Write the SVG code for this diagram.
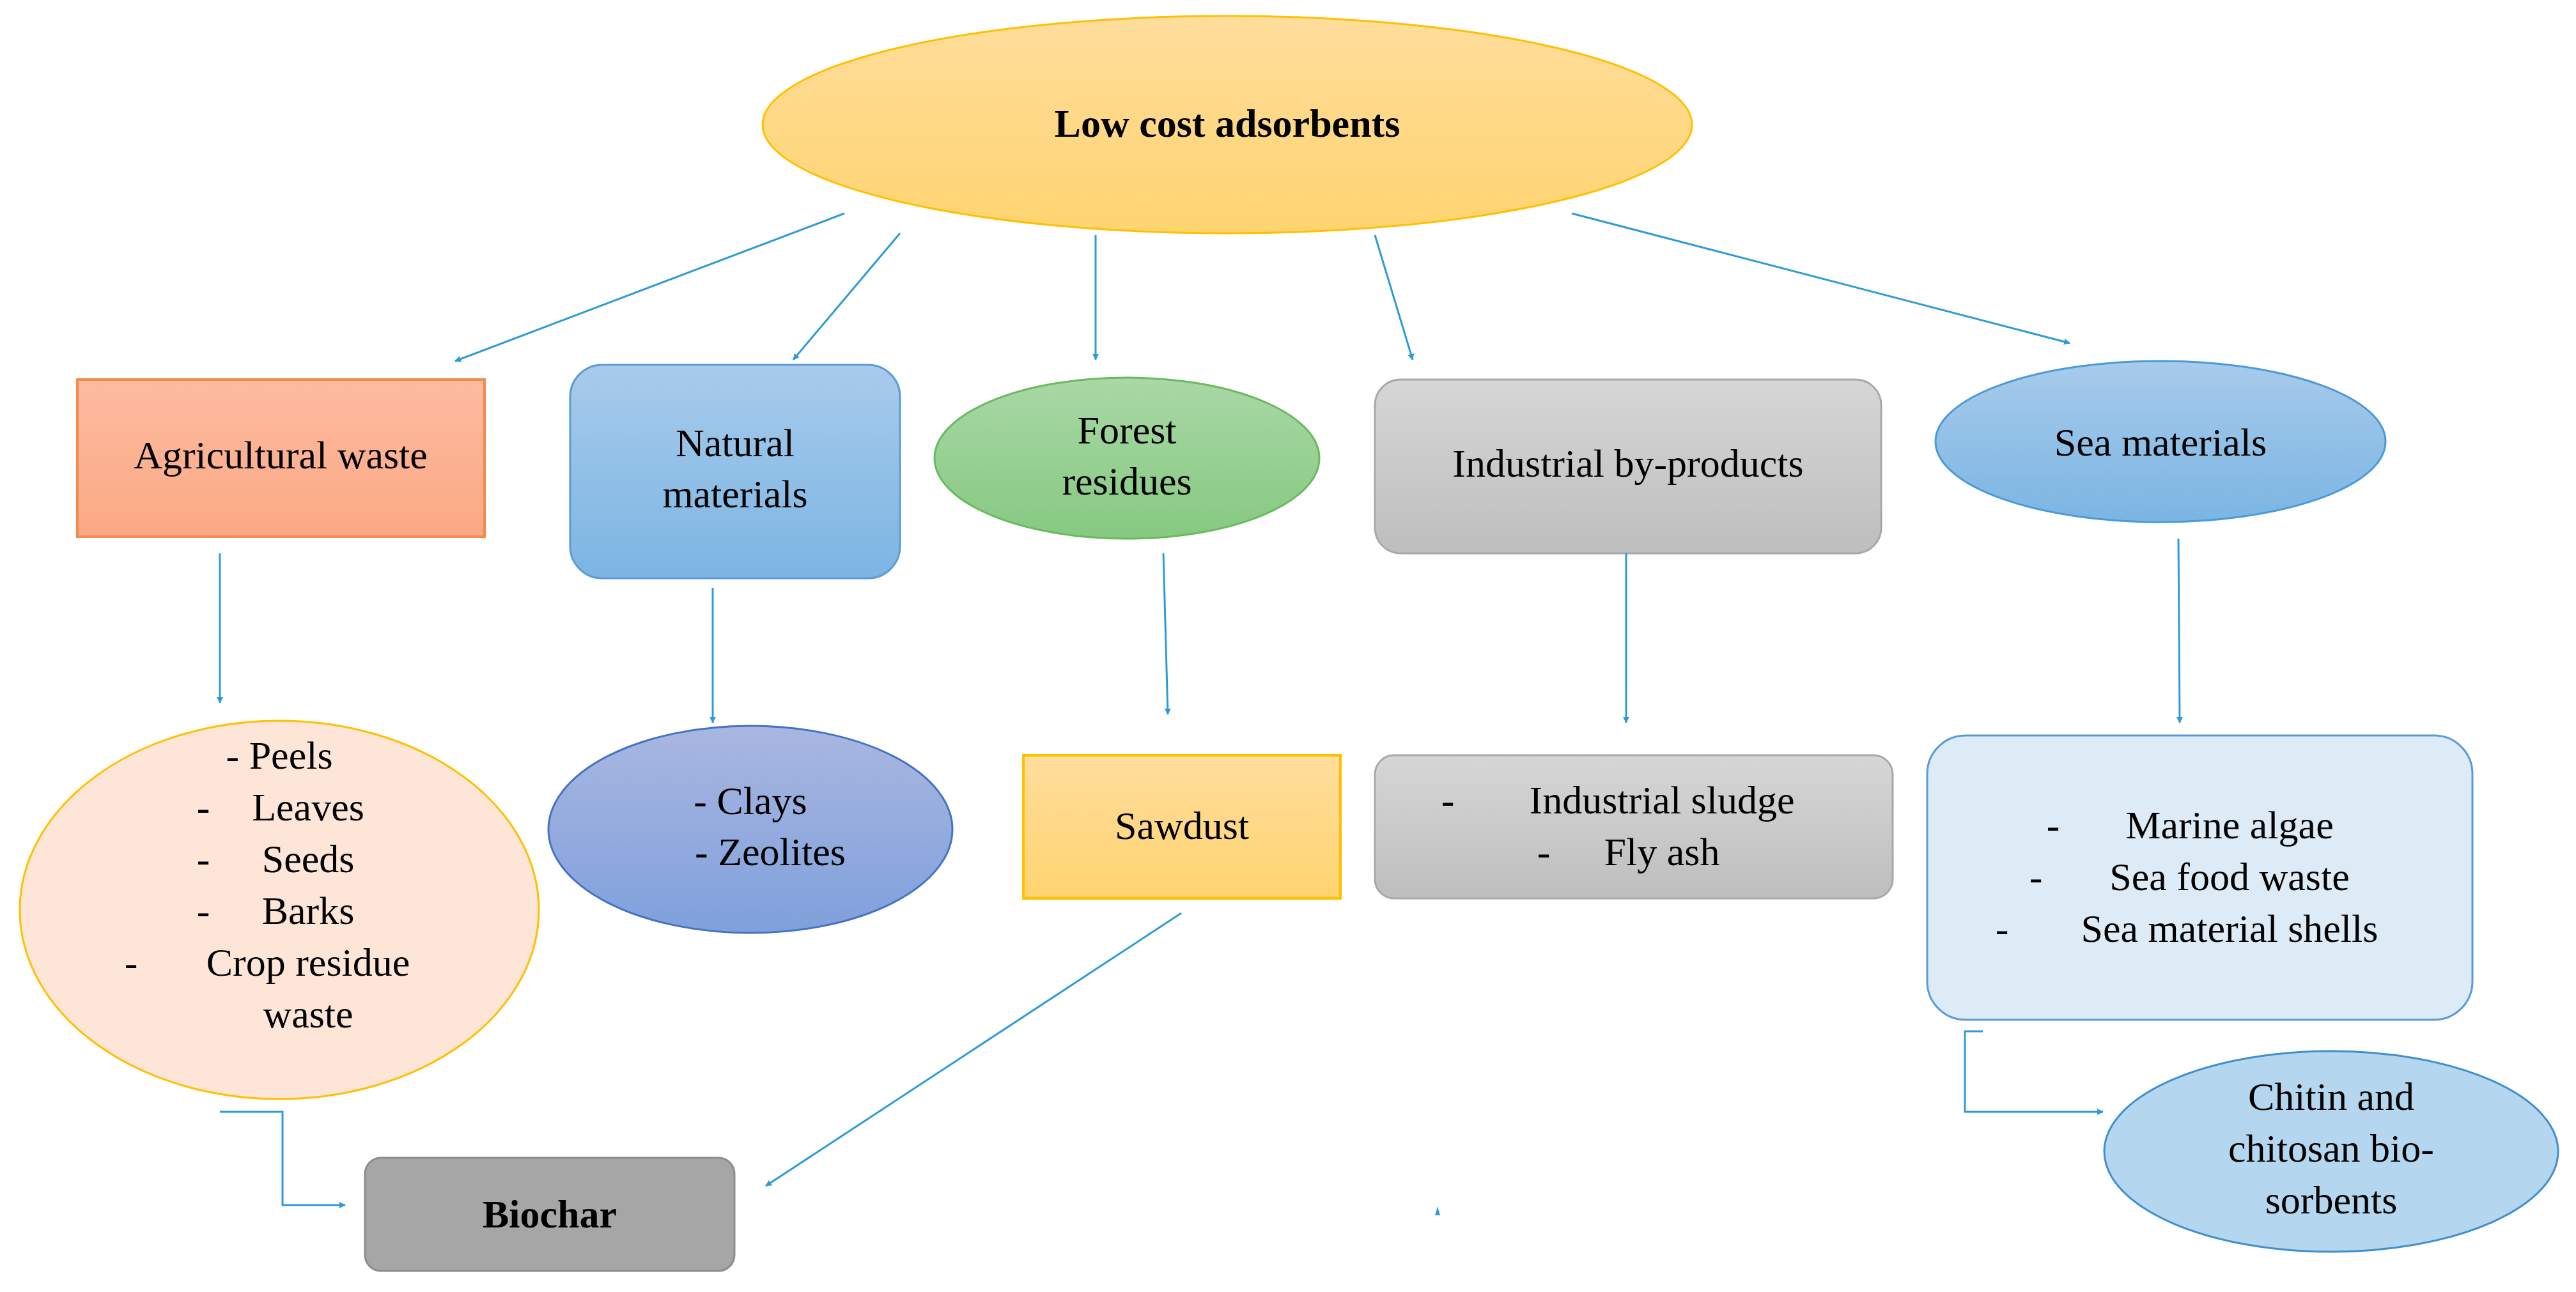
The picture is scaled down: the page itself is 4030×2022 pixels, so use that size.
<svg xmlns="http://www.w3.org/2000/svg" width="4030" height="2022" viewBox="0 0 4030 2022">
<style>
text{font-family:"Liberation Serif","DejaVu Serif",serif;font-size:62px;fill:#000;text-anchor:middle}
.c{fill:none;stroke:#2E9BD6;stroke-width:3}
</style>
<defs>
<marker id="a" markerWidth="10" markerHeight="10" refX="9" refY="5" orient="auto" markerUnits="userSpaceOnUse" viewBox="0 0 10 10"><path d="M0,0 L10,5 L0,10 z" fill="#2E9BD6"/></marker>
<linearGradient id="gy" x1="0" y1="0" x2="0" y2="1"><stop offset="0" stop-color="#FFDD9C"/><stop offset="1" stop-color="#FFD470"/></linearGradient>
<linearGradient id="go" x1="0" y1="0" x2="0" y2="1"><stop offset="0" stop-color="#FDBBA0"/><stop offset="1" stop-color="#FBA984"/></linearGradient>
<linearGradient id="gb" x1="0" y1="0" x2="0" y2="1"><stop offset="0" stop-color="#A8CBEB"/><stop offset="1" stop-color="#7BB5E3"/></linearGradient>
<linearGradient id="gg" x1="0" y1="0" x2="0" y2="1"><stop offset="0" stop-color="#A9D8A6"/><stop offset="1" stop-color="#86C981"/></linearGradient>
<linearGradient id="gs" x1="0" y1="0" x2="0" y2="1"><stop offset="0" stop-color="#D6D6D6"/><stop offset="1" stop-color="#BEBEBE"/></linearGradient>
<linearGradient id="gd" x1="0" y1="0" x2="0" y2="1"><stop offset="0" stop-color="#A9B7E0"/><stop offset="1" stop-color="#7FA0DC"/></linearGradient>
</defs>
<g id="root"><ellipse cx="1920" cy="195" rx="727" ry="170" fill="url(#gy)" stroke="#FFC000" stroke-width="3"/><text x="1920" y="214" font-weight="bold" font-size="58">Low cost adsorbents</text></g>
<g id="agri"><rect x="121" y="594" width="637" height="246" fill="url(#go)" stroke="#F58A4B" stroke-width="4"/><text x="439" y="733">Agricultural waste</text></g>
<g id="natural"><rect x="892" y="571" width="516" height="334" rx="50" fill="url(#gb)" stroke="#5B9BD5" stroke-width="3"/><text x="1150" y="714">Natural</text><text x="1150" y="794">materials</text></g>
<g id="forest"><ellipse cx="1763" cy="717" rx="301" ry="126" fill="url(#gg)" stroke="#6AB95F" stroke-width="3"/><text x="1763" y="694">Forest</text><text x="1763" y="774">residues</text></g>
<g id="industrial"><rect x="2151" y="594" width="792" height="272" rx="40" fill="url(#gs)" stroke="#A8A8A8" stroke-width="3"/><text x="2547" y="746">Industrial by-products</text></g>
<g id="sea"><ellipse cx="3380" cy="691" rx="352" ry="126" fill="url(#gb)" stroke="#4A9AD8" stroke-width="3"/><text x="3380" y="713">Sea materials</text></g>
<g id="agrilist"><ellipse cx="437" cy="1424" rx="406" ry="296" fill="#FDE5D8" stroke="#FFC000" stroke-width="3"/>
<text x="437" y="1203">- Peels</text><text x="446" y="1284"><tspan x="318">-</tspan><tspan x="482">Leaves</tspan></text><text><tspan x="318" y="1365">-</tspan><tspan x="482" y="1365">Seeds</tspan></text><text><tspan x="318" y="1446">-</tspan><tspan x="482" y="1446">Barks</tspan></text><text><tspan x="205" y="1527">-</tspan><tspan x="482" y="1527">Crop residue</tspan></text><text x="482" y="1608">waste</text></g>
<g id="clays"><ellipse cx="1174" cy="1298" rx="316" ry="162" fill="url(#gd)" stroke="#4472C4" stroke-width="3"/><text x="1174" y="1274">- Clays</text><text x="1205" y="1354">- Zeolites</text></g>
<g id="sawdust"><rect x="1601" y="1182" width="496" height="224" fill="url(#gy)" stroke="#FFC000" stroke-width="4"/><text x="1849" y="1313">Sawdust</text></g>
<g id="sludge"><rect x="2151" y="1182" width="810" height="224" rx="30" fill="url(#gs)" stroke="#A8A8A8" stroke-width="3"/><text><tspan x="2265" y="1273">-</tspan><tspan x="2600" y="1273">Industrial sludge</tspan></text><text><tspan x="2415" y="1354">-</tspan><tspan x="2600" y="1354">Fly ash</tspan></text></g>
<g id="sealist"><rect x="3015" y="1151" width="853" height="445" rx="60" fill="#DDEBF7" stroke="#5B9BD5" stroke-width="3"/><text><tspan x="3212" y="1312">-</tspan><tspan x="3488" y="1312">Marine algae</tspan></text><text><tspan x="3185" y="1393">-</tspan><tspan x="3488" y="1393">Sea food waste</tspan></text><text><tspan x="3132" y="1474">-</tspan><tspan x="3488" y="1474">Sea material shells</tspan></text></g>
<g id="chitin"><ellipse cx="3647" cy="1802" rx="355" ry="157" fill="#B4D6EF" stroke="#3F8FCC" stroke-width="3"/><text x="3647" y="1737">Chitin and</text><text x="3647" y="1818">chitosan bio-</text><text x="3647" y="1899">sorbents</text></g>
<g id="biochar"><rect x="571" y="1812" width="578" height="177" rx="25" fill="#A6A6A6" stroke="#8C8C8C" stroke-width="3"/><text x="860" y="1921" font-weight="bold">Biochar</text></g>
<g id="connectors">
<line class="c" x1="1321" y1="334" x2="712" y2="565" marker-end="url(#a)"/>
<line class="c" x1="1408" y1="365" x2="1241" y2="563" marker-end="url(#a)"/>
<line class="c" x1="1714" y1="368" x2="1714" y2="563" marker-end="url(#a)"/>
<line class="c" x1="2151" y1="368" x2="2210" y2="563" marker-end="url(#a)"/>
<line class="c" x1="2459" y1="334" x2="3238" y2="537" marker-end="url(#a)"/>
<line class="c" x1="344" y1="866" x2="344" y2="1100" marker-end="url(#a)"/>
<line class="c" x1="1115" y1="920" x2="1115" y2="1131" marker-end="url(#a)"/>
<line class="c" x1="1820" y1="866" x2="1827" y2="1118" marker-end="url(#a)"/>
<line class="c" x1="2544" y1="866" x2="2544" y2="1131" marker-end="url(#a)"/>
<line class="c" x1="3408" y1="843" x2="3410" y2="1131" marker-end="url(#a)"/>
<line class="c" x1="1848" y1="1429" x2="1198" y2="1856" marker-end="url(#a)"/>
<polyline class="c" points="344,1740 442,1740 442,1886 540,1886" marker-end="url(#a)"/>
<polyline class="c" points="3102,1614 3074,1614 3074,1740 3290,1740" marker-end="url(#a)"/>
<path d="M2245,1902 L2249,1888 L2253,1902 z" fill="#2E9BD6"/>
</g>
</svg>
